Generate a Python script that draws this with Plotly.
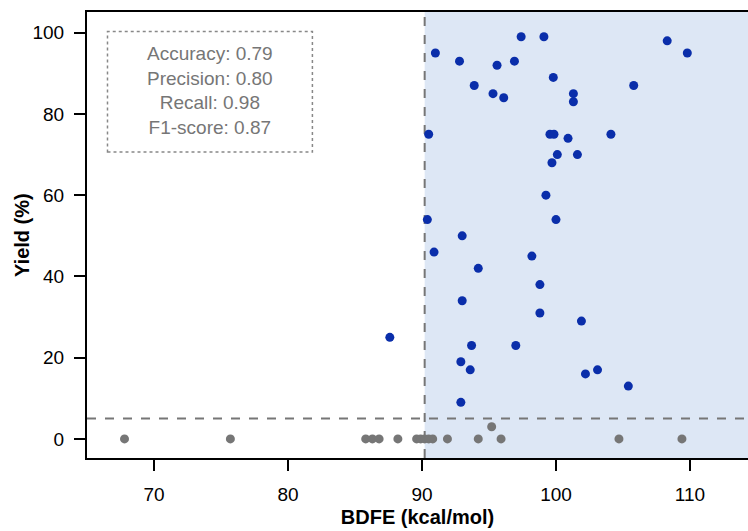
import plotly.graph_objects as go

# Predicted-positive (blue) reactions
blue_bdfe = [91.0, 97.4, 99.1, 92.8, 95.6, 96.9, 99.8, 93.9, 95.3, 96.1, 101.3, 101.3,
             90.5, 99.55, 99.85, 100.9, 100.1, 99.7, 101.6, 108.3, 109.8, 105.8, 104.1,
             99.25, 90.4, 100.0, 93.0, 90.9, 98.2, 94.2, 98.8, 93.0, 98.8, 101.9, 87.6,
             93.7, 97.0, 92.9, 93.6, 102.2, 103.1, 92.9, 105.4]
blue_yield = [95, 99, 99, 93, 92, 93, 89, 87, 85, 84, 85, 83,
              75, 75, 75, 74, 70, 68, 70, 98, 95, 87, 75,
              60, 54, 54, 50, 46, 45, 42, 38, 34, 31, 29, 25,
              23, 23, 19, 17, 16, 17, 9, 13]

# Low-yield (gray) reactions
gray_bdfe = [67.8, 75.7, 85.8, 86.3, 86.8, 88.2, 89.6, 89.9, 90.2, 90.5, 90.8, 91.9,
             94.2, 95.2, 95.9, 104.7, 109.4]
gray_yield = [0, 0, 0, 0, 0, 0, 0, 0, 0, 0, 0, 0,
              0, 3, 0, 0, 0]

bdfe_threshold = 90.2
yield_threshold = 5

x_ticks = [70, 80, 90, 100, 110]
y_ticks = [0, 20, 40, 60, 80, 100]

metrics_text = "Accuracy: 0.79<br>Precision: 0.80<br>Recall: 0.98<br>F1-score: 0.87"

FONT = "Liberation Sans, Arial, sans-serif"
GRAY = "#767676"

fig = go.Figure()

fig.add_trace(go.Scatter(x=gray_bdfe, y=gray_yield, mode="markers",
                         marker=dict(color=GRAY, size=9), showlegend=False))
fig.add_trace(go.Scatter(x=blue_bdfe, y=blue_yield, mode="markers",
                         marker=dict(color="#0a2eaa", size=9), showlegend=False))

# shaded region
fig.add_shape(type="rect", xref="x", yref="y domain", x0=bdfe_threshold, x1=120,
              y0=0, y1=1, fillcolor="#dde7f5", line_width=0, layer="below")
# threshold lines
fig.add_shape(type="line", xref="x", yref="y domain", x0=bdfe_threshold, x1=bdfe_threshold,
              y0=0, y1=1, line=dict(color=GRAY, width=2, dash="dash"), layer="below")
fig.add_shape(type="line", xref="x domain", yref="y", x0=0, x1=1,
              y0=yield_threshold, y1=yield_threshold,
              line=dict(color=GRAY, width=2, dash="dash"), layer="below")

# metrics box
fig.add_shape(type="rect", xref="x domain", yref="y domain", x0=0.031, x1=0.341,
              y0=0.686, y1=0.956, line=dict(color="#888888", width=1.5, dash="dot"),
              fillcolor="rgba(0,0,0,0)")
fig.add_annotation(xref="x domain", yref="y domain", x=0.186, y=0.823,
                   xanchor="center", yanchor="middle",
                   text=metrics_text, showarrow=False, align="center",
                   font=dict(family=FONT, size=19, color=GRAY))

# y-axis title
fig.add_annotation(xref="paper", yref="paper", x=0, y=0.5, xshift=-65,
                   xanchor="center", yanchor="middle", textangle=-90,
                   text="<b>Yield (%)</b>", showarrow=False,
                   font=dict(family=FONT, size=20, color="black"))

fig.update_xaxes(range=[65, 114.33], tickvals=x_ticks, ticks="outside", ticklen=11,
                 tickwidth=2, tickcolor="black", showline=True, linecolor="black",
                 linewidth=2, mirror=True, showgrid=False, zeroline=False,
                 automargin=False, ticklabelstandoff=7,
                 tickfont=dict(family=FONT, size=19, color="black"),
                 title=dict(text="<b>BDFE (kcal/mol)</b>",
                            font=dict(family=FONT, size=20, color="black"), standoff=6))
fig.update_yaxes(range=[-4.7, 105.1], tickvals=y_ticks, ticks="outside", ticklen=11,
                 tickwidth=2, tickcolor="black", showline=True, linecolor="black",
                 linewidth=2, showgrid=False, zeroline=False,
                 automargin=False, ticklabelstandoff=6,
                 tickfont=dict(family=FONT, size=19, color="black"))

fig.update_layout(width=748, height=531, margin=dict(l=87, r=0, t=12, b=73),
                  plot_bgcolor="white", paper_bgcolor="white", showlegend=False)

fig.write_html("out.html", config={"displayModeBar": False},
               post_script="document.body.style.margin='0';document.body.style.overflow='hidden';")
